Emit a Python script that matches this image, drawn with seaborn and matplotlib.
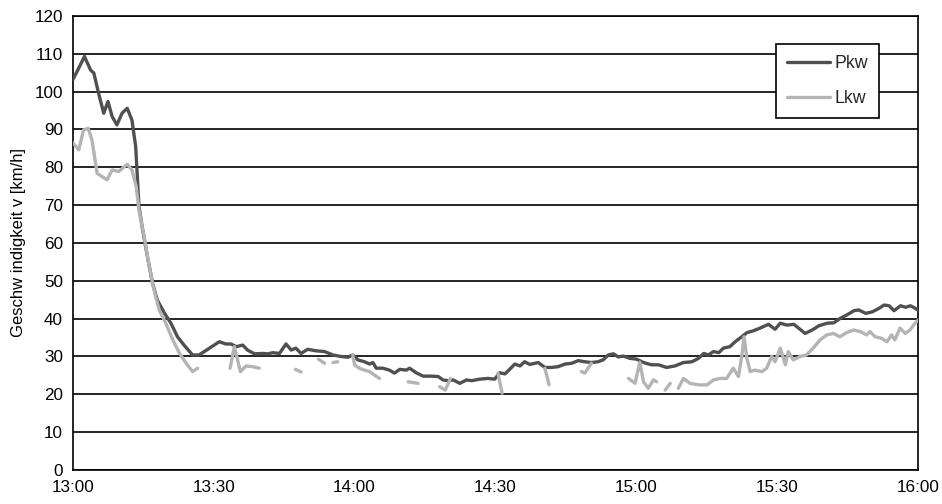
import numpy as np
import pandas as pd
import matplotlib
matplotlib.use("Agg")
import matplotlib.pyplot as plt
from matplotlib.lines import Line2D
import seaborn as sns

# Minutes after 13:00 and mean speed of passenger cars (Pkw)
pkw_min = [0, 1.2, 2.5, 3.8, 4.5, 5.5, 6.6, 7.5, 8.4, 9.4, 10.5, 11.6, 12.6, 13.4,
           14.1, 14.9, 15.9, 17.0, 18.0, 19.5, 20.9, 22.3, 23.7, 25.5, 26.9, 29.1,
           31.2, 32.6, 33.7, 34.8, 36.2, 37.2, 38.7, 40.4, 41.5, 42.6, 44.0, 45.4,
           46.5, 47.5, 48.6, 50.0, 51.8, 53.6, 55.4, 57.1, 58.6, 59.6, 60.7, 62.1,
           63.2, 63.9, 64.6, 66.0, 67.4, 68.5, 69.6, 71.0, 71.7, 73.1, 74.6, 76.3,
           77.8, 78.8, 79.9, 81.0, 82.4, 83.8, 84.9, 86.6, 88.4, 89.8, 90.9, 92.0,
           93.0, 94.1, 95.2, 96.2, 97.3, 99.1, 100.5, 101.9, 103.3, 104.8, 106.2,
           107.6, 109.0, 110.4, 111.8, 112.9, 114.0, 115.1, 116.1, 117.2, 118.6,
           120.0, 121.5, 123.2, 124.7, 126.4, 128.2, 130.0, 131.8, 133.2, 134.3,
           135.3, 136.4, 137.5, 138.5, 139.9, 141.0, 142.4, 143.5, 144.9, 146.3,
           148.1, 149.5, 150.6, 152.0, 153.5, 154.5, 155.9, 157.4, 158.8, 160.6,
           162.0, 163.4, 164.8, 166.3, 167.3, 168.8, 170.2, 171.6, 172.7, 173.8,
           174.8, 176.2, 177.3, 178.3, 179.4, 180.0]
pkw_kmh = [103.1, 106.0, 109.3, 105.7, 104.9, 99.6, 94.3, 97.4, 93.4, 91.2, 94.3, 95.6,
           92.5, 85.5, 69.6, 63.4, 56.4, 49.3, 44.9, 41.5, 38.8, 35.2, 33.0, 30.4,
           30.4, 32.2, 33.9, 33.3, 33.3, 32.6, 33.0, 31.7, 30.7, 30.8, 30.7, 31.0,
           30.8, 33.3, 31.7, 32.2, 30.8, 31.9, 31.5, 31.3, 30.4, 30.0, 29.8, 30.4,
           29.1, 28.6, 28.0, 28.4, 26.9, 26.9, 26.4, 25.6, 26.6, 26.4, 26.9, 25.7,
           24.8, 24.8, 24.7, 23.8, 23.6, 23.8, 22.9, 23.8, 23.6, 24.0, 24.2, 24.0,
           25.7, 25.4, 26.6, 28.0, 27.5, 28.6, 27.9, 28.4, 27.1, 27.1, 27.3, 28.0,
           28.2, 28.9, 28.6, 28.4, 28.6, 29.1, 30.4, 30.7, 29.9, 30.1, 29.5, 29.3,
           28.4, 27.8, 27.8, 27.1, 27.5, 28.4, 28.6, 29.5, 30.8, 30.4, 31.3, 31.0,
           32.2, 32.6, 33.9, 35.2, 36.3, 36.8, 37.5, 38.5, 37.2, 38.8, 38.3, 38.5,
           37.5, 36.1, 37.0, 38.1, 38.8, 38.9, 40.1, 41.0, 42.1, 42.3, 41.4, 41.8,
           42.7, 43.6, 43.4, 42.1, 43.4, 43.0, 43.4, 42.7, 42.1]

# Trucks (Lkw): recorded in separate stretches, one list per stretch
lkw_min = [
    [0, 1.3, 2.3, 3.3, 4.1, 5.2, 6.3, 7.3, 8.4, 9.8, 11.6, 12.6, 13.5, 14.1, 15.2,
     16.3, 17.3, 18.4, 19.8, 21.3, 22.7, 24.1, 25.5, 26.6],
    [33.5, 34.4, 35.7, 36.9, 38.3, 39.7],
    [47.4, 48.6],
    [52.3, 53.6],
    [55.4, 56.4],
    [59.6, 60.0, 61.0, 62.1, 63.2, 64.2, 65.3],
    [71.4, 73.5],
    [78.1, 79.3, 80.4],
    [90.5, 91.4],
    [100.5, 101.4],
    [108.3, 109.0, 110.4],
    [118.3, 119.7, 120.7, 121.5, 122.5, 123.6, 124.3],
    [126.1, 127.2],
    [128.9, 130.0, 131.4, 133.2, 135.0, 136.4, 137.8, 139.2, 140.6, 141.7, 142.4,
     142.9, 143.5, 144.2, 145.2, 146.7, 147.7, 148.8, 149.5, 150.6, 151.7, 152.3,
     153.4, 154.8, 156.2, 157.6, 159.1, 160.5, 161.9, 163.3, 164.7, 166.2, 167.6,
     169.0, 169.7, 170.8, 172.2, 173.3, 174.3, 175.0, 176.1, 177.2, 178.2, 179.3,
     180.0],
]
lkw_kmh = [
    [86.5, 84.6, 89.9, 90.3, 87.2, 78.4, 77.5, 76.7, 79.3, 78.9, 80.8, 79.3, 75.0,
     68.7, 61.7, 53.7, 47.6, 42.3, 38.8, 34.4, 30.9, 28.3, 26.0, 26.9],
    [26.9, 32.6, 26.0, 27.5, 27.3, 26.9],
    [26.6, 25.9],
    [29.3, 28.2],
    [28.4, 28.6],
    [30.4, 27.8, 26.9, 26.4, 26.0, 25.1, 24.2],
    [23.3, 22.9],
    [22.0, 21.1, 24.2],
    [25.6, 20.3],
    [26.9, 22.5],
    [26.0, 25.6, 28.2],
    [24.2, 22.9, 28.5, 23.3, 21.6, 23.8, 23.3],
    [21.1, 22.9],
    [21.6, 24.2, 22.9, 22.5, 22.5, 23.8, 24.2, 24.2, 26.9, 24.7, 30.0, 35.2, 29.5,
     26.0, 26.4, 26.0, 26.9, 30.0, 28.6, 32.2, 27.8, 31.3, 29.1, 30.0, 30.4, 32.2,
     34.4, 35.7, 36.1, 35.2, 36.3, 37.0, 36.6, 35.7, 36.6, 35.2, 34.8, 33.9, 35.7,
     34.4, 37.5, 36.1, 37.0, 38.8, 39.7],
]

tick_min = [0, 30, 60, 90, 120, 150, 180]
tick_labels = ["13:00", "13:30", "14:00", "14:30", "15:00", "15:30", "16:00"]
y_ticks = list(range(0, 121, 10))

sns.set_theme(style="white")
plt.rcParams["font.family"] = ["Liberation Sans", "DejaVu Sans"]

PKW_COLOR = "#505050"
LKW_COLOR = "#b4b4b4"

pkw = pd.DataFrame({"t": pkw_min, "v": pkw_kmh})
lkw = pd.concat(
    [pd.DataFrame({"t": ts, "v": vs, "seg": i}) for i, (ts, vs) in enumerate(zip(lkw_min, lkw_kmh))],
    ignore_index=True,
)

fig = plt.figure(figsize=(9.42, 5.04), dpi=100)
ax = fig.add_axes([0.0772, 0.0675, 0.8977, 0.9008])

sns.lineplot(data=pkw, x="t", y="v", color=PKW_COLOR, linewidth=2.4,
             ax=ax, legend=False, zorder=3)
sns.lineplot(data=lkw, x="t", y="v", units="seg", estimator=None,
             color=LKW_COLOR, linewidth=2.4, ax=ax, legend=False, zorder=4)

ax.set_xlim(0, 180)
ax.set_ylim(0, 120)
ax.set_xticks(tick_min)
ax.set_xticklabels(tick_labels)
ax.set_yticks(y_ticks)

ax.set_axisbelow(True)
ax.yaxis.grid(True, color="black", linewidth=1.2)
ax.xaxis.grid(False)
for side in ["left", "right", "top", "bottom"]:
    ax.spines[side].set_visible(True)
    ax.spines[side].set_color("black")
    ax.spines[side].set_linewidth(1.2)

ax.tick_params(axis="both", direction="inout", length=8, width=1.0,
               color="black", labelsize=12.3, labelcolor="black")
ax.tick_params(axis="y", pad=3)
ax.tick_params(axis="x", pad=3)

ax.set_xlabel("")
ax.set_ylabel("Geschw indigkeit v [km/h]", fontsize=12, color="black", labelpad=6)

handles = [Line2D([], [], color=PKW_COLOR, linewidth=2.4),
           Line2D([], [], color=LKW_COLOR, linewidth=2.4)]
leg = ax.legend(handles, ["Pkw", "Lkw"], loc="upper right",
                bbox_to_anchor=(0.9535, 0.938), borderaxespad=0,
                frameon=True, fancybox=False, framealpha=1, edgecolor="black",
                fontsize=12.8, handlelength=2.45, handletextpad=0.25,
                labelspacing=1.05, borderpad=0.6)
leg.get_frame().set_linewidth(1.2)
leg.set_zorder(10)

fig.savefig("out.png", dpi=100, facecolor="white")
